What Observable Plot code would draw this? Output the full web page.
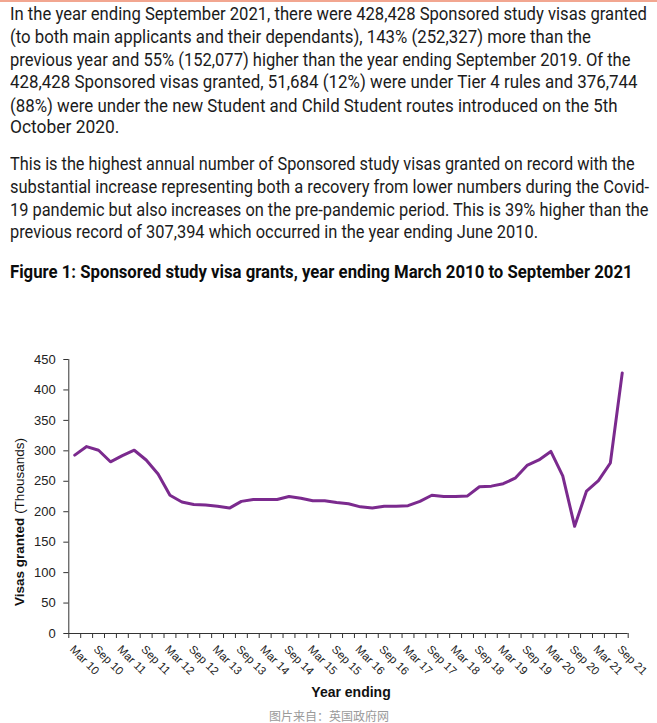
<!DOCTYPE html>
<html><head><meta charset="utf-8">
<script src="https://cdn.jsdelivr.net/npm/d3@7"></script>
<script src="https://cdn.jsdelivr.net/npm/@observablehq/plot@0.6"></script>
<style>
html,body{margin:0;padding:0;background:#fff;width:657px;height:723px;overflow:hidden;position:relative;}
#topbar{position:absolute;left:0;top:0;width:657px;height:2px;background:#f2a690;}
.ln{position:absolute;left:10px;white-space:nowrap;font-family:Roboto,"Noto Sans",sans-serif;font-size:17.5px;color:#1b1b1b;transform-origin:0 0;line-height:1;}
.ln.b{font-weight:700;color:#0b0c0c;}
#chart{position:absolute;left:0;top:340px;}
#ytitle{position:absolute;font-family:"Liberation Sans",Arial,sans-serif;font-size:13.5px;color:#111;white-space:nowrap;left:19px;top:522px;transform:translate(-50%,-50%) rotate(-90deg);}
#xtitle{position:absolute;font-family:"Liberation Sans",Arial,sans-serif;font-size:14px;font-weight:700;color:#111;white-space:nowrap;left:351px;top:692px;transform:translate(-50%,-50%);}
#cap{position:absolute;font-family:"Noto Sans CJK SC",sans-serif;font-size:12px;color:#9a9a9a;white-space:nowrap;left:329px;top:715px;transform:translate(-50%,-50%);}
</style>
</head><body>
<div id="topbar"></div>
<div id="text"></div>
<div id="chart"></div>
<div id="ytitle"><b>Visas granted</b> (Thousands)</div>
<div id="xtitle">Year ending</div>
<div id="cap">图片来自：英国政府网</div>
<script>
// ---- Data ----
const periods = [
  "Mar 10","Jun 10","Sep 10","Dec 10",
  "Mar 11","Jun 11","Sep 11","Dec 11",
  "Mar 12","Jun 12","Sep 12","Dec 12",
  "Mar 13","Jun 13","Sep 13","Dec 13",
  "Mar 14","Jun 14","Sep 14","Dec 14",
  "Mar 15","Jun 15","Sep 15","Dec 15",
  "Mar 16","Jun 16","Sep 16","Dec 16",
  "Mar 17","Jun 17","Sep 17","Dec 17",
  "Mar 18","Jun 18","Sep 18","Dec 18",
  "Mar 19","Jun 19","Sep 19","Dec 19",
  "Mar 20","Jun 20","Sep 20","Dec 20",
  "Mar 21","Jun 21","Sep 21"
];
const visasThousands = [
  293,307,301,282,
  292,301,285,262,
  227,216,212,211,
  209,206,217,220,
  220,220,225,222,
  218,218,215,213,
  208,206,209,209,
  210,217,227,225,
  225,226,241,242,
  246,255,276,285,
  299,259,176,234,
  251,280,428
];
const yTicks = [0,50,100,150,200,250,300,350,400,450];

const paragraphLines = [
  "In the year ending September 2021, there were 428,428 Sponsored study visas granted",
  "(to both main applicants and their dependants), 143% (252,327) more than the",
  "previous year and 55% (152,077) higher than the year ending September 2019. Of the",
  "428,428 Sponsored visas granted, 51,684 (12%) were under Tier 4 rules and 376,744",
  "(88%) were under the new Student and Child Student routes introduced on the 5th",
  "October 2020.",
  "This is the highest annual number of Sponsored study visas granted on record with the",
  "substantial increase representing both a recovery from lower numbers during the Covid-",
  "19 pandemic but also increases on the pre-pandemic period. This is 39% higher than the",
  "previous record of 307,394 which occurred in the year ending June 2010."
];
const figureTitle = "Figure 1: Sponsored study visa grants, year ending March 2010 to September 2021";

// layout: baseline y and right edge of each text line
const lineLayout = [
  [20,647],[42.7,591],[65.7,630.5],[88.3,637.6],[111.7,617.5],[133.3,119.4],
  [170,634.7],[193.3,649],[216,648.5],[238.3,538]
];
const titleLayout = [278.3,632.6];

// ---- Text ----
const textRoot = document.getElementById("text");
function addLine(str, baseline, right, bold){
  const d = document.createElement("div");
  d.className = "ln" + (bold ? " b" : "");
  d.textContent = str;
  const m = document.createElement("span");
  m.style.cssText = "display:inline-block;width:0;height:0;vertical-align:baseline";
  d.appendChild(m);
  textRoot.appendChild(d);
  const r = d.getBoundingClientRect();
  const base = m.getBoundingClientRect().top - r.top;
  const w = r.width;
  const k = (right - 10) / w;
  d.style.top = (baseline - base) + "px";
  d.style.transform = `scaleX(${k})`;
}
paragraphLines.forEach((s,i)=>addLine(s, lineLayout[i][0], lineLayout[i][1], false));
addLine(figureTitle, titleLayout[0], titleLayout[1], true);

// ---- Chart ----
const rows = visasThousands.map((v,i)=>({i, period: periods[i], v}));
const boundaries = d3.range(periods.length + 1).map(k => k - 0.5);

const chart = Plot.plot({
  width: 657,
  height: 340,
  marginLeft: 68.3,
  marginRight: 29.3,
  marginTop: 19,
  marginBottom: 47,
  style: {fontFamily: "'Liberation Sans', Arial, sans-serif", color: "#222", background: "transparent"},
  x: {type: "linear", domain: [-0.5, periods.length - 0.5]},
  y: {domain: [0, 450]},
  marks: [
    Plot.axisY({ticks: yTicks, tickSize: 5, tickPadding: 8, fontSize: 13, label: null, stroke: "#333", fill: "#222"}),
    Plot.axisX({ticks: boundaries, tickSize: 5, tickFormat: () => "", label: null, stroke: "#333"}),
    Plot.ruleY([0], {x1: -0.5, x2: periods.length - 0.5, stroke: "#333"}),
    Plot.ruleX([-0.5], {y1: 0, y2: 450, stroke: "#333"}),
    Plot.line(rows, {x: "i", y: "v", stroke: "#7b2a8e", strokeWidth: 3, strokeLinejoin: "round", strokeLinecap: "round"}),
    Plot.text(rows.filter(d => d.i % 2 === 0), {x: "i", y: () => 0, text: "period", rotate: 45, textAnchor: "start", dx: -3, dy: 14, fontSize: 11.5, fill: "#222"})
  ]
});
document.getElementById("chart").appendChild(chart);
</script>
</body></html>
